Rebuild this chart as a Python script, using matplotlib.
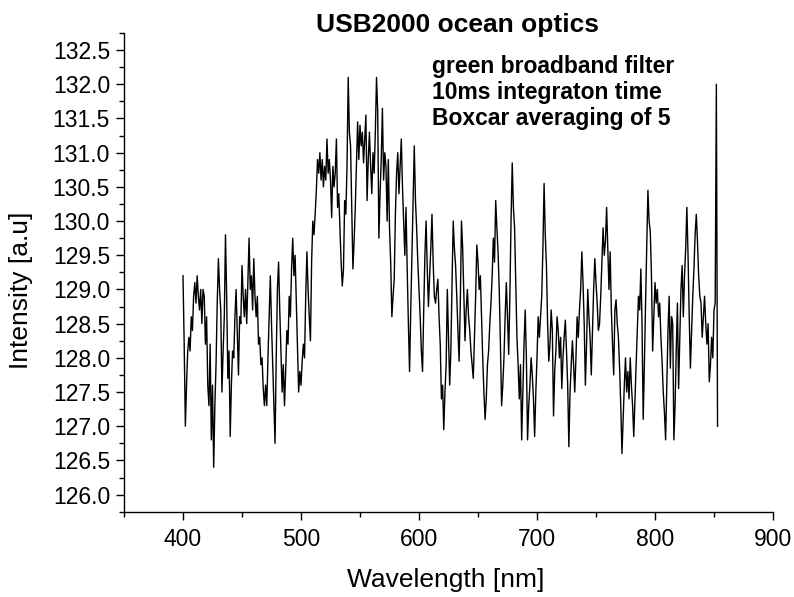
import numpy as np
import matplotlib
matplotlib.use("Agg")
import matplotlib.pyplot as plt
from matplotlib.ticker import MultipleLocator, FormatStrFormatter

plt.rcParams['font.family'] = ['Liberation Sans', 'DejaVu Sans']

# Intensity readings, one per nm, starting at 400 nm
int_400 = [129.2, 128.2, 127.0, 127.6, 128.1, 128.3, 128.1, 128.6, 128.4, 128.9,
           129.1, 128.8, 129.2, 128.9, 128.7, 129.0, 128.5, 129.0, 128.9, 128.2,
           128.6, 127.6, 127.3, 128.2, 126.8, 127.6, 126.4, 127.3, 127.9, 128.8,
           129.45, 129.0, 128.7, 127.5, 128.1, 128.6, 129.8, 128.9, 127.7, 128.1,
           126.85, 127.6, 128.1, 128.0, 128.6, 129.0, 128.4, 127.75, 128.6, 128.5,
           129.35, 128.9, 128.6, 129.0, 128.5, 129.1, 129.75, 129.0, 129.2, 128.7,
           129.45, 128.9, 128.6, 128.9, 128.2, 128.3, 127.9, 128.0, 127.55, 127.3,
           127.6, 127.3, 128.0, 128.6, 129.2, 128.5, 127.9, 127.3, 126.75, 128.0,
           129.0, 129.4, 128.7, 128.1, 127.5, 127.9, 127.3, 127.8, 128.4, 128.2,
           128.9, 128.6, 129.3, 129.75, 129.2, 129.5, 128.85, 128.2, 127.5, 127.8]
int_500 = [127.6, 127.95, 128.2, 128.0, 128.9, 129.55, 129.0, 128.6, 128.25, 129.4,
           130.0, 129.8, 130.1, 130.45, 130.9, 130.7, 131.0, 130.6, 130.9, 130.5,
           130.8, 130.6, 131.2, 130.7, 130.9, 130.6, 130.05, 130.8, 130.5, 130.7,
           131.2, 130.2, 130.4, 129.9, 129.4, 129.05, 129.3, 130.3, 130.1, 130.8,
           132.1, 131.3, 131.1, 130.2, 129.3, 129.7, 130.2, 130.8, 131.45, 130.9,
           131.4, 131.1, 131.3, 130.85, 131.2, 131.55, 130.3, 130.9, 131.3, 130.8,
           130.4, 131.0, 130.7, 131.3, 132.1, 131.6, 129.75, 130.4, 130.9, 131.65,
           130.6, 131.0, 130.8, 130.0, 130.9, 129.9, 129.4, 128.6, 128.9, 129.15,
           130.1, 130.7, 131.0, 130.4, 130.8, 131.2, 130.5, 130.0, 129.5, 130.2,
           129.3, 128.5, 127.8, 128.7, 129.5, 130.3, 131.1, 130.3, 129.9, 129.4]
int_600 = [129.0, 128.6, 128.1, 127.8, 128.7, 129.5, 130.0, 129.3, 128.75, 129.2,
           129.6, 130.1, 129.4, 128.9, 128.8, 129.0, 129.15, 128.6, 128.2, 127.4,
           127.6, 126.95, 127.5, 127.9, 129.0, 128.3, 127.6, 128.1, 129.1, 130.0,
           129.6, 129.35, 128.9, 128.4, 127.95, 128.8, 130.0, 129.6, 128.9, 128.25,
           128.7, 129.0, 128.6, 128.4, 128.1, 127.9, 127.7, 128.3, 128.9, 129.65,
           129.4, 129.0, 129.2, 128.6, 128.0, 127.5, 127.1, 127.4, 127.9, 128.1,
           128.5, 128.8, 129.2, 129.75, 129.4, 130.3, 129.9, 129.55, 129.0, 128.2,
           127.3, 127.6, 128.0, 128.6, 129.1, 128.6, 128.05, 128.9, 130.0, 130.85,
           130.2, 129.9, 129.1, 128.3, 127.9, 127.4, 127.9, 126.8, 127.5, 128.2,
           128.7, 128.0, 126.8, 127.3, 127.6, 128.0, 127.75, 127.4, 126.85, 127.5]
int_700 = [128.0, 128.6, 128.3, 128.6, 128.9, 129.6, 130.55, 129.8, 129.35, 128.5,
           127.95, 128.2, 128.7, 128.4, 127.15, 127.8, 128.1, 128.6, 128.4, 128.0,
           128.3, 127.55, 128.0, 128.3, 128.55, 128.1, 127.6, 126.7, 127.5, 127.9,
           128.25, 127.9, 127.5, 128.0, 128.6, 128.3, 128.7, 129.0, 129.55, 129.1,
           128.5, 127.6, 128.2, 129.0, 128.6, 128.3, 127.75, 128.4, 129.0, 129.45,
           129.1, 128.8, 128.4, 128.5, 128.9, 129.4, 129.9, 129.5, 129.7, 130.2,
           129.6, 129.0, 129.55, 128.7, 128.2, 127.75, 128.7, 128.85, 128.5, 128.3,
           127.85, 127.3, 126.6, 127.1, 127.6, 128.0, 127.5, 127.8, 127.4, 128.0,
           127.6, 127.3, 126.85, 127.4, 127.9, 128.4, 128.9, 128.7, 129.3, 128.5,
           127.1, 127.9, 128.8, 129.6, 130.45, 130.0, 129.85, 129.2, 128.1, 128.6]
int_800 = [129.1, 128.8, 129.0, 128.6, 128.8, 128.3, 127.95, 127.5, 127.2, 126.8,
           127.6, 128.4, 128.9, 127.85, 128.6, 128.5, 126.8, 127.3, 128.1, 128.8,
           127.55, 128.3, 129.0, 129.35, 128.6, 129.2, 129.6, 130.2, 129.5, 128.6,
           127.85, 128.4, 128.9, 129.3, 129.8, 130.1, 129.7, 129.2, 128.9, 128.8,
           128.3, 128.6, 128.9, 128.5, 128.2, 128.5, 127.65, 127.9, 128.3, 128.0,
           128.7, 128.8, 132.0, 127.0]

start_nm = 400
intensity = np.array(int_400 + int_500 + int_600 + int_700 + int_800)
wavelength = start_nm + np.arange(len(intensity))

title = "USB2000 ocean optics"
xlabel = "Wavelength [nm]"
ylabel = "Intensity [a.u]"
notes = ["green broadband filter", "10ms integraton time", "Boxcar averaging of 5"]

fig = plt.figure(figsize=(7.94, 5.97), dpi=100)
ax = fig.add_axes([124 / 794, 1 - 511.7 / 597, (773 - 124) / 794, (511.7 - 33) / 597])
ax.plot(wavelength, intensity, color='black', linewidth=1.0)

ax.set_xlim(350, 900)
ax.set_ylim(125.75, 132.75)
ax.xaxis.set_major_locator(MultipleLocator(100))
ax.xaxis.set_minor_locator(MultipleLocator(50))
ax.set_yticks(np.arange(126.0, 132.51, 0.5))
ax.yaxis.set_minor_locator(MultipleLocator(0.25))
ax.yaxis.set_major_formatter(FormatStrFormatter('%.1f'))

for s in ['top', 'right']:
    ax.spines[s].set_visible(False)
for s in ['left', 'bottom']:
    ax.spines[s].set_linewidth(1.0)

ax.tick_params(axis='both', which='major', direction='out', length=6, width=1.0,
               labelsize=16.5)
ax.tick_params(axis='both', which='minor', direction='out', length=3.5, width=1.0)
ax.tick_params(axis='x', which='major', pad=6)
ax.tick_params(axis='y', which='major', pad=4)

fig.text(446 / 794, 10 / 597, xlabel, ha='center', va='baseline', fontsize=19)
fig.text(21 / 794, 1 - 290 / 597, ylabel, ha='center', va='center',
         rotation=90, fontsize=19)
fig.text(457 / 794, 1 - 32 / 597, title, ha='center', va='baseline', fontsize=19,
         fontweight='bold')
for i, line in enumerate(notes):
    fig.text(432 / 794, 1 - (73 + 26 * i) / 597, line, ha='left', va='baseline',
             fontsize=16.5, fontweight='bold')

fig.savefig("out.png", dpi=100)
